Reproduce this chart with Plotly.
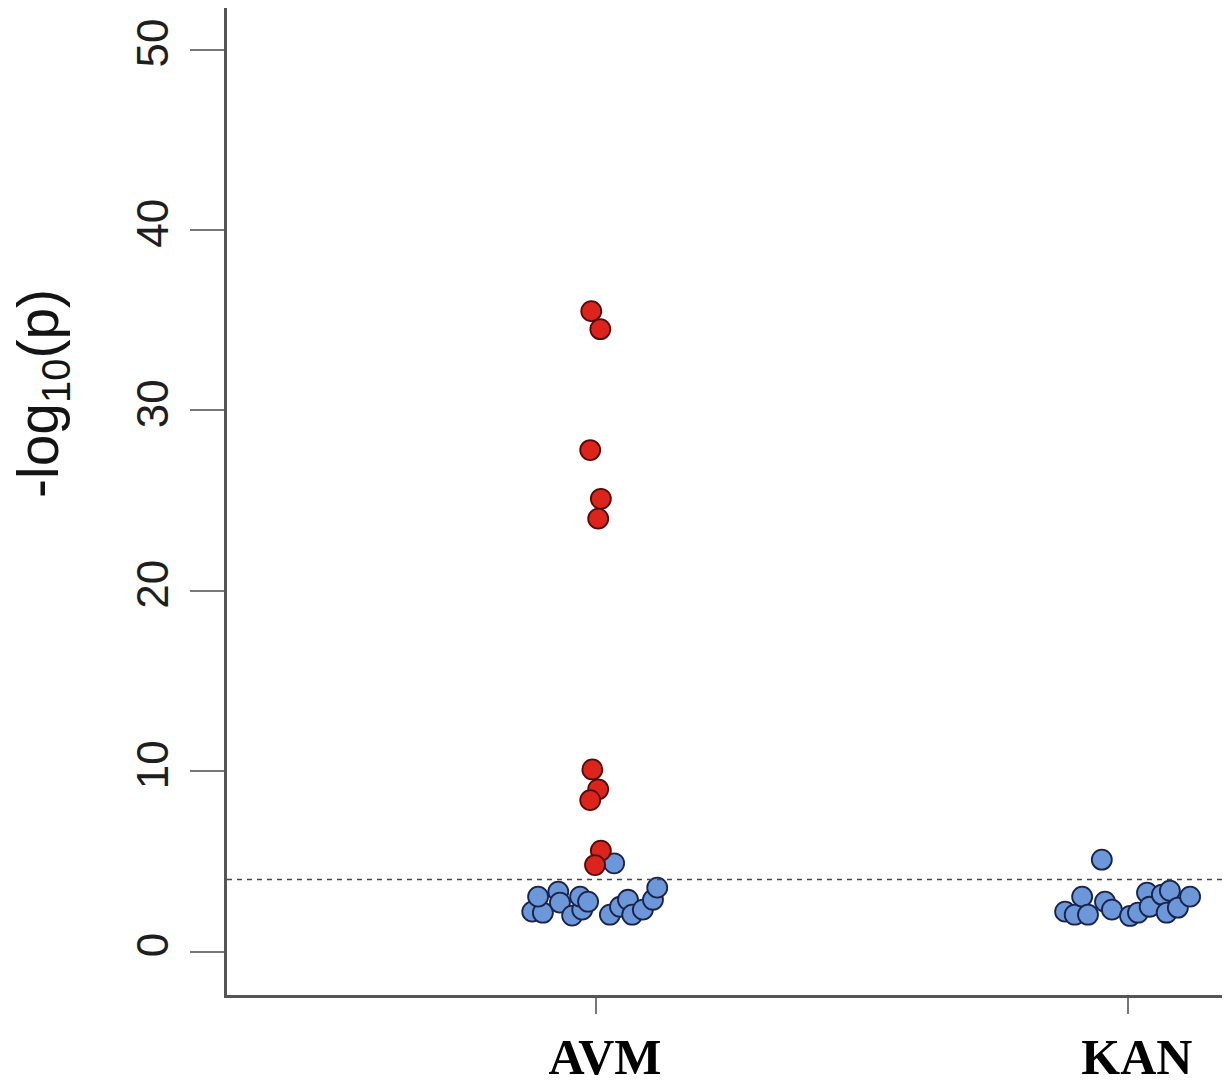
import plotly.graph_objects as go

# Data
categories = ["AVM", "KAN"]
cat_pos = [1, 2]

# AVM significant (red) points: x = category position with jitter, y = -log10(p)
avm_red_x = [0.991, 1.008, 0.989, 1.009, 1.004, 0.993, 1.004, 0.989, 1.009, 0.998]
avm_red_y = [35.5, 34.5, 27.8, 25.1, 24.0, 10.1, 9.0, 8.4, 5.6, 4.8]

# AVM non-significant (blue) points
avm_blue_x = [0.880, 0.900, 0.891, 0.929, 0.932, 0.955, 0.974, 0.970, 0.985,
              1.026, 1.045, 1.060, 1.068, 1.088, 1.107, 1.115, 1.034]
avm_blue_y = [2.22, 2.16, 3.05, 3.33, 2.72, 2.00, 2.33, 3.05, 2.77,
              2.05, 2.49, 2.88, 2.05, 2.33, 2.88, 3.55, 4.90]

# KAN (blue) points
kan_blue_x = [1.951, 1.882, 1.900, 1.914, 1.925, 1.957, 1.970, 2.004, 2.019,
              2.036, 2.041, 2.064, 2.073, 2.079, 2.094, 2.117]
kan_blue_y = [5.10, 2.22, 2.05, 3.05, 2.05, 2.77, 2.33, 1.98, 2.16,
              3.27, 2.49, 3.16, 2.16, 3.38, 2.44, 3.05]

threshold = 4.0
y_ticks = [0, 10, 20, 30, 40, 50]

blue_fill = "rgb(108,151,216)"
blue_line = "rgb(25,35,75)"
red_fill = "rgb(220,36,26)"
red_line = "rgb(85,10,10)"

fig = go.Figure()

fig.add_trace(go.Scatter(
    x=avm_blue_x + kan_blue_x, y=avm_blue_y + kan_blue_y, mode="markers",
    marker=dict(size=20, color=blue_fill, line=dict(color=blue_line, width=1.8)),
    showlegend=False, hoverinfo="skip"))
fig.add_trace(go.Scatter(
    x=avm_red_x, y=avm_red_y, mode="markers",
    marker=dict(size=20, color=red_fill, line=dict(color=red_line, width=1.8)),
    showlegend=False, hoverinfo="skip"))

fig.add_shape(type="line", xref="paper", x0=0, x1=1, yref="y", y0=threshold, y1=threshold,
              line=dict(color="rgb(70,70,70)", width=1.6, dash="5px,5px"))

fig.update_xaxes(
    range=[0.306, 2.177], tickmode="array", tickvals=cat_pos, ticktext=categories,
    showline=True, linecolor="rgb(85,85,85)", linewidth=3, mirror=False,
    ticks="outside", ticklen=16, tickwidth=2, tickcolor="rgb(120,120,120)",
    tickfont=dict(family="Liberation Serif", size=50, color="black", weight="bold"),
    ticklabelstandoff=0, ticklabelshift=9, automargin=False,
    showgrid=False, zeroline=False)

fig.update_yaxes(
    range=[-2.4, 52.3], tickmode="array", tickvals=y_ticks,
    ticktext=[str(v) for v in y_ticks], tickangle=-90,
    showline=True, linecolor="rgb(85,85,85)", linewidth=3, mirror=False,
    ticks="outside", ticklen=34, tickwidth=2, tickcolor="rgb(120,120,120)",
    tickfont=dict(family="Liberation Sans", size=44, color="rgb(30,30,30)"),
    ticklabelstandoff=4, automargin=False,
    showgrid=False, zeroline=False)

fig.add_annotation(
    text="-log<sub>10</sub>(p)", textangle=-90, showarrow=False,
    xref="paper", yref="paper", x=(42 - 227) / 995, y=(995 - 394) / 987,
    xanchor="center", yanchor="middle",
    font=dict(family="Liberation Sans", size=57, color="rgb(20,20,20)"))

# The page body adds an 8px offset; margins compensate so the plot area sits
# at x 227..1222 and y 8..995 in the screenshot.
fig.update_layout(
    width=1232, height=1084,
    margin=dict(l=219, r=18, t=0, b=97),
    paper_bgcolor="white", plot_bgcolor="white",
)

fig.write_html("out.html")
